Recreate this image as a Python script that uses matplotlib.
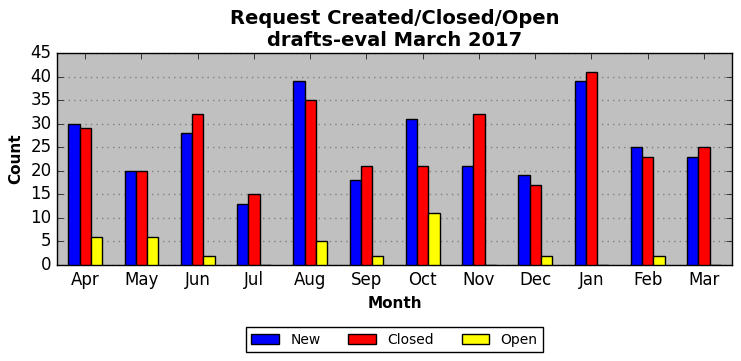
import matplotlib
matplotlib.use("Agg")
import matplotlib.pyplot as plt
import numpy as np

months = ["Apr", "May", "Jun", "Jul", "Aug", "Sep", "Oct", "Nov", "Dec", "Jan", "Feb", "Mar"]
new = [30, 20, 28, 13, 39, 18, 31, 21, 19, 39, 25, 23]
closed = [29, 20, 32, 15, 35, 21, 21, 32, 17, 41, 23, 25]
opened = [6, 6, 2, 0, 5, 2, 11, 0, 2, 0, 2, 0]

plt.style.use("classic")
fig = plt.figure(figsize=(7.41, 3.61), dpi=100)
ax = fig.add_axes([57 / 741, 1 - 265 / 361, 675 / 741, 212 / 361])
ax.set_facecolor("#c0c0c0")

x = np.arange(len(months))
w = 0.2
ax.bar(x - w, new, w, color="blue", edgecolor="black", linewidth=1, label="New", zorder=3)
ax.bar(x, closed, w, color="red", edgecolor="black", linewidth=1, label="Closed", zorder=3)
ax.bar(x + w, opened, w, color="yellow", edgecolor="black", linewidth=1, label="Open", zorder=3)

ax.set_xlim(-0.5, len(months) - 0.5)
ax.set_ylim(0, 45)
ax.set_yticks(range(0, 46, 5))
ax.set_xticks(x)
ax.set_xticklabels(months)
ax.yaxis.grid(True, linestyle=(0, (1, 3)), color="gray", linewidth=1, zorder=0)
ax.set_axisbelow(True)

ax.set_title("Request Created/Closed/Open\ndrafts-eval March 2017", fontsize=14, fontweight="bold")
ax.set_xlabel("Month", fontsize=11, fontweight="bold")
ax.set_ylabel("Count", fontsize=11, fontweight="bold")

ax.legend(loc="upper center", bbox_to_anchor=(0.5, -0.26), ncol=3, fontsize=10,
          handlelength=2, columnspacing=2.0)

fig.savefig("out.png", dpi=100)
